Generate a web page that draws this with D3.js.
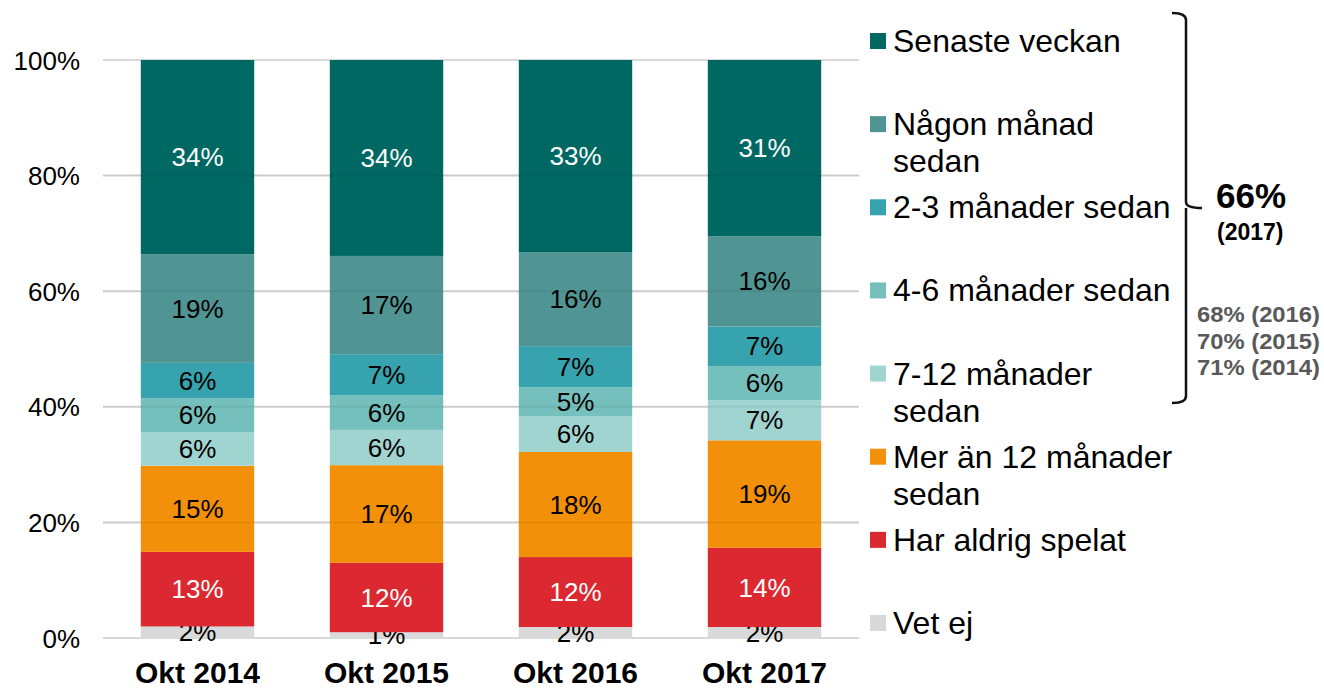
<!DOCTYPE html>
<html>
<head>
<meta charset="utf-8">
<script src="https://cdnjs.cloudflare.com/ajax/libs/d3/7.8.5/d3.min.js"></script>
<style>
  body { margin: 0; background: #fff; }
  svg { font-family: "Liberation Sans", Arial, sans-serif; }
</style>
</head>
<body>
<div id="chart"></div>
<script>
// categories
var years = ["Okt 2014", "Okt 2015", "Okt 2016", "Okt 2017"];

// series, bottom of stack first
var series = ["Vet ej", "Har aldrig spelat", "Mer än 12 månader sedan", "7-12 månader sedan",
  "4-6 månader sedan", "2-3 månader sedan", "Någon månad sedan", "Senaste veckan"];

// values (%) per series, one per year
var vetEj      = [2.0, 1.0, 1.9, 1.9];
var harAldrig  = [12.9, 12.0, 12.1, 13.7];
var mer12      = [14.9, 16.9, 18.2, 18.6];
var man7_12    = [5.8, 6.1, 6.2, 6.9];
var man4_6     = [5.9, 6.0, 5.0, 5.9];
var man2_3     = [6.1, 7.1, 7.1, 6.9];
var nagonManad = [18.8, 17.0, 16.2, 15.6];
var senaste    = [33.6, 33.9, 33.3, 30.5];

var seriesValues = [vetEj, harAldrig, mer12, man7_12, man4_6, man2_3, nagonManad, senaste];

var colors = ["#d9d9d9", "#dc2830", "#f39009", "#a0d4d1", "#75c0bc", "#37a3ae", "#509593", "#006863"];
var labelColors = ["#000", "#fff", "#000", "#000", "#000", "#000", "#000", "#fff"];

// legend labels (top to bottom) with line breaks
var legendLines = {
  "Senaste veckan": ["Senaste veckan"],
  "Någon månad sedan": ["Någon månad", "sedan"],
  "2-3 månader sedan": ["2-3 månader sedan"],
  "4-6 månader sedan": ["4-6 månader sedan"],
  "7-12 månader sedan": ["7-12 månader", "sedan"],
  "Mer än 12 månader sedan": ["Mer än 12 månader", "sedan"],
  "Har aldrig spelat": ["Har aldrig spelat"],
  "Vet ej": ["Vet ej"]
};

var yTicks = [0, 20, 40, 60, 80, 100];

// annotation
var bracketMain = "66%";
var bracketMainYear = "(2017)";
var bracketOthers = ["68% (2016)", "70% (2015)", "71% (2014)"];

var W = 1324, H = 689;
var margin = { top: 60, left: 103 },
  width = 756,
  height = 578;

var svg = d3.select("#chart")
  .append("svg")
  .attr("width", W)
  .attr("height", H);

var g = svg.append("g")
  .attr("transform", "translate(" + margin.left + "," + margin.top + ")");

// build table for stack
var table = years.map(function (yr, i) {
  var row = { year: yr };
  series.forEach(function (s, j) { row[s] = seriesValues[j][i]; });
  return row;
});

var stacked = d3.stack().keys(series)(table);

var x = d3.scaleBand()
  .domain(years)
  .range([0, width])
  .paddingInner(0.4)
  .paddingOuter(0.2);

var y = d3.scaleLinear()
  .domain([0, 100])
  .range([height, 0]);

// gridlines
g.append("g")
  .selectAll("line")
  .data(yTicks)
  .enter()
  .append("line")
  .attr("x1", 0)
  .attr("x2", width)
  .attr("y1", function (d) { return y(d); })
  .attr("y2", function (d) { return y(d); })
  .attr("stroke", "#d9d9d9")
  .attr("stroke-width", 2);

// y axis labels
var yAxis = g.append("g")
  .call(d3.axisLeft(y).tickValues(yTicks).tickSize(0).tickPadding(23).tickFormat(function (d) { return d + "%"; }));
yAxis.select(".domain").remove();
yAxis.selectAll("text")
  .attr("font-family", "Liberation Sans, Arial, sans-serif")
  .attr("font-size", 26)
  .attr("fill", "#000")
  .attr("dy", "0.35em");

// bars
var layers = g.selectAll(".layer")
  .data(stacked)
  .enter()
  .append("g")
  .attr("class", "layer")
  .attr("fill", function (d, i) { return colors[i]; });

layers.selectAll("rect")
  .data(function (d) { return d; })
  .enter()
  .append("rect")
  .attr("x", function (d) { return x(d.data.year); })
  .attr("width", x.bandwidth())
  .attr("y", function (d) { return y(d[1]); })
  .attr("height", function (d) { return y(d[0]) - y(d[1]); });

// faint gridlines showing through bars
g.append("g")
  .selectAll("line")
  .data(yTicks.slice(1, 5))
  .enter()
  .append("line")
  .attr("x1", 0)
  .attr("x2", width)
  .attr("y1", function (d) { return y(d); })
  .attr("y2", function (d) { return y(d); })
  .attr("stroke", "rgba(0,0,0,0.06)")
  .attr("stroke-width", 2);

// value labels
layers.each(function (layer, i) {
  d3.select(this).selectAll("text")
    .data(layer)
    .enter()
    .append("text")
    .attr("x", function (d) { return x(d.data.year) + x.bandwidth() / 2; })
    .attr("y", function (d) { return (y(d[0]) + y(d[1])) / 2; })
    .attr("dy", "0.35em")
    .attr("text-anchor", "middle")
    .attr("font-size", 26)
    .attr("fill", labelColors[i])
    .text(function (d) { return Math.round(d[1] - d[0]) + "%"; });
});

// x axis labels
var xAxis = g.append("g")
  .attr("transform", "translate(0," + height + ")")
  .call(d3.axisBottom(x).tickSize(0).tickPadding(24));
xAxis.select(".domain").remove();
xAxis.selectAll("text")
  .attr("font-family", "Liberation Sans, Arial, sans-serif")
  .attr("font-size", 30)
  .attr("font-weight", "bold")
  .attr("fill", "#000");

// legend
var legendOrder = series.slice().reverse();
var ly = d3.scalePoint().domain(legendOrder).range([41, 623]);

var legend = svg.append("g")
  .selectAll("g")
  .data(legendOrder)
  .enter()
  .append("g")
  .attr("transform", function (d) { return "translate(870," + ly(d) + ")"; });

legend.append("rect")
  .attr("x", 0)
  .attr("y", -8)
  .attr("width", 16)
  .attr("height", 16)
  .attr("fill", function (d) { return colors[series.indexOf(d)]; });

legend.append("text")
  .attr("x", 23)
  .attr("y", 11)
  .attr("font-size", 32)
  .attr("fill", "#000")
  .each(function (d) {
    var t = d3.select(this);
    legendLines[d].forEach(function (line, k) {
      t.append("tspan")
        .attr("x", 23)
        .attr("dy", k === 0 ? 0 : 37)
        .text(line);
    });
  });

// bracket
var bx = 1186;
svg.append("path")
  .attr("d", "M1172,13 Q" + bx + ",13 " + bx + ",20 L" + bx + ",202 Q" + bx + ",208 1202,208 " +
    "M" + bx + ",208 L" + bx + ",396 Q" + bx + ",403 1172,403")
  .attr("fill", "none")
  .attr("stroke", "#111")
  .attr("stroke-width", 2.5);

svg.append("text")
  .attr("x", 1216)
  .attr("y", 208)
  .attr("font-size", 35)
  .attr("font-weight", "bold")
  .attr("fill", "#000")
  .text(bracketMain);

svg.append("text")
  .attr("x", 1217)
  .attr("y", 240)
  .attr("font-size", 23)
  .attr("font-weight", "bold")
  .attr("fill", "#000")
  .text(bracketMainYear);

svg.append("g")
  .selectAll("text")
  .data(bracketOthers)
  .enter()
  .append("text")
  .attr("x", 1197)
  .attr("y", function (d, i) { return 322 + i * 26.5; })
  .attr("font-size", 22)
  .attr("font-weight", "bold")
  .attr("fill", "#595959")
  .attr("textLength", 123)
  .attr("lengthAdjust", "spacingAndGlyphs")
  .text(function (d) { return d; });
</script>
</body>
</html>
